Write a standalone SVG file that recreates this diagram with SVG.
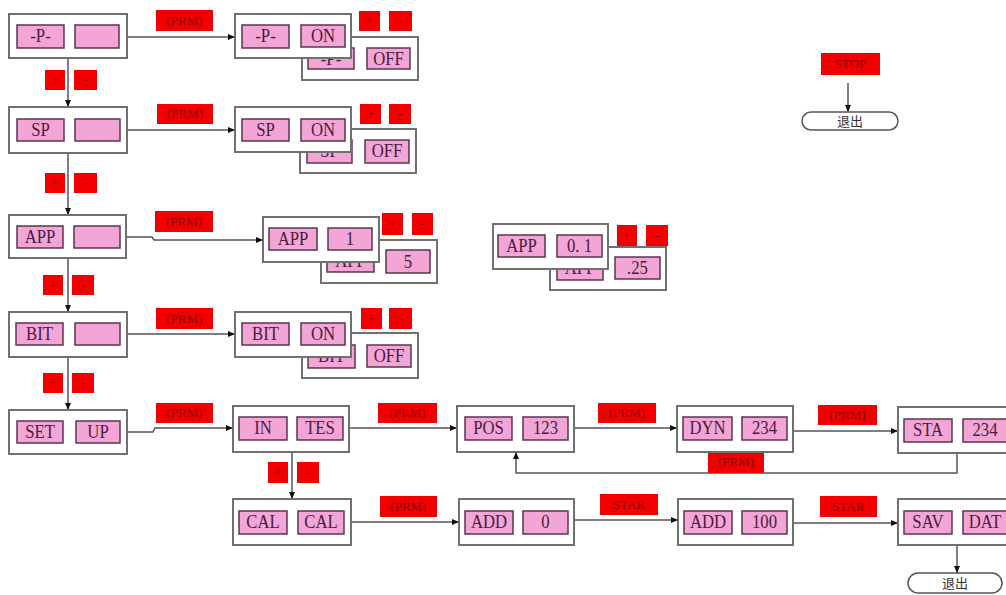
<svg xmlns="http://www.w3.org/2000/svg" width="1006" height="595" viewBox="0 0 1006 595">
<style>
.ob{fill:#fff;stroke:#707070;stroke-width:2}
.ib{fill:#f3a5d5;stroke:#5a3550;stroke-width:1.5}
.it{font-family:"Liberation Serif",serif;font-size:19px;fill:#4a1a40;text-anchor:middle;transform:scaleX(0.88);transform-box:fill-box;transform-origin:center}
.rb{fill:#f20000}
.rt{font-family:"Liberation Serif",serif;font-size:13px;fill:#8a0000;text-anchor:middle}
.ln{stroke:#555;stroke-width:1.5;fill:none;marker-end:url(#ah)}
.tm{fill:#fff;stroke:#555;stroke-width:1.5}
.tt{font-family:"Liberation Serif","Noto Sans CJK SC",serif;font-size:13px;fill:#333;text-anchor:middle}
</style>
<defs>
<marker id="ah" markerUnits="userSpaceOnUse" markerWidth="8" markerHeight="8" refX="7" refY="4" orient="auto">
<path d="M0,1 L7,4 L0,7 Z" fill="#111"/>
</marker>
</defs>
<rect width="1006" height="595" fill="#fff"/>

<g id="connectors">
<path class="ln" d="M68,58 V107"/>
<path class="ln" d="M68,153 V215"/>
<path class="ln" d="M68,258 V312"/>
<path class="ln" d="M68,357 V410"/>
<path class="ln" d="M127,37 H235"/>
<path class="ln" d="M127,130 H235"/>
<path class="ln" d="M126,237 H152 L154,240 H263"/>
<path class="ln" d="M127,334 H235"/>
<path class="ln" d="M127,432 H153 L155,428 H233"/>
<path class="ln" d="M349,428 H457"/>
<path class="ln" d="M574,428 H677"/>
<path class="ln" d="M793,431 H898"/>
<path class="ln" d="M957,453 V473 H516 V452"/>
<path class="ln" d="M292,452 V499"/>
<path class="ln" d="M351,522 H459"/>
<path class="ln" d="M574,520 H678"/>
<path class="ln" d="M793,523 H898"/>
<path class="ln" d="M957,545 V573"/>
<path class="ln" d="M848,83 V112"/>
</g>

<g id="labels">
<rect class="rb" x="156" y="10" width="57" height="21"/><text class="rt" x="184.5" y="25">(PRM)</text>
<rect class="rb" x="157" y="104" width="56" height="20"/><text class="rt" x="185" y="118">(PRM)</text>
<rect class="rb" x="155" y="211" width="58" height="21"/><text class="rt" x="184" y="226">(PRM)</text>
<rect class="rb" x="156" y="308" width="57" height="21"/><text class="rt" x="184.5" y="323">(PRM)</text>
<rect class="rb" x="156" y="403" width="57" height="20"/><text class="rt" x="184.5" y="417">(PRM)</text>
<rect class="rb" x="378" y="403" width="59" height="20"/><text class="rt" x="407.5" y="417">(PRM)</text>
<rect class="rb" x="598" y="403" width="58" height="20"/><text class="rt" x="627" y="417">(PRM)</text>
<rect class="rb" x="818" y="405" width="59" height="20"/><text class="rt" x="847.5" y="419">(PRM)</text>
<rect class="rb" x="708" y="451" width="56" height="22"/><text class="rt" x="736" y="466">(PRM)</text>
<rect class="rb" x="380" y="496" width="57" height="21"/><text class="rt" x="408.5" y="511">(PRM)</text>
<rect class="rb" x="600" y="494" width="58" height="21"/><text class="rt" x="629" y="509">STAR</text>
<rect class="rb" x="820" y="496" width="57" height="21"/><text class="rt" x="848.5" y="511">STAR</text>
<rect class="rb" x="821" y="53" width="59" height="22"/><text class="rt" x="850.5" y="68">STOP</text>
<rect class="rb" x="45" y="70" width="20" height="20"/><text class="rt" x="55" y="84">+</text>
<rect class="rb" x="74" y="70" width="23" height="20"/><text class="rt" x="85.5" y="84">-</text>
<rect class="rb" x="45" y="173" width="20" height="20"/><text class="rt" x="55" y="187">+</text>
<rect class="rb" x="74" y="173" width="23" height="20"/><text class="rt" x="85.5" y="187">-</text>
<rect class="rb" x="43" y="275" width="20" height="20"/><text class="rt" x="53" y="289">+</text>
<rect class="rb" x="72" y="275" width="22" height="20"/><text class="rt" x="83" y="289">-</text>
<rect class="rb" x="43" y="373" width="20" height="20"/><text class="rt" x="53" y="387">+</text>
<rect class="rb" x="72" y="373" width="22" height="20"/><text class="rt" x="83" y="387">-</text>
<rect class="rb" x="268" y="462" width="20" height="21"/><text class="rt" x="278" y="477">+</text>
<rect class="rb" x="297" y="462" width="22" height="21"/><text class="rt" x="308" y="477">-</text>
</g>

<g id="n_p_menu">
<rect class="ob" x="9" y="14" width="118" height="44"/>
<rect class="ib" x="17" y="25" width="47" height="23"/><text class="it" x="40.5" y="42">-P-</text>
<rect class="ib" x="75" y="25" width="44" height="23"/>
</g>
<g id="n_sp_menu">
<rect class="ob" x="9" y="107" width="118" height="46"/>
<rect class="ib" x="17" y="119" width="47" height="22"/><text class="it" x="40.5" y="136">SP</text>
<rect class="ib" x="75" y="119" width="45" height="22"/>
</g>
<g id="n_app_menu">
<rect class="ob" x="9" y="215" width="117" height="43"/>
<rect class="ib" x="17" y="226" width="46" height="22"/><text class="it" x="40" y="243">APP</text>
<rect class="ib" x="74" y="226" width="46" height="22"/>
</g>
<g id="n_bit_menu">
<rect class="ob" x="9" y="312" width="118" height="45"/>
<rect class="ib" x="16" y="323" width="47" height="22"/><text class="it" x="39.5" y="340">BIT</text>
<rect class="ib" x="75" y="323" width="45" height="22"/>
</g>
<g id="n_setup">
<rect class="ob" x="9" y="410" width="118" height="44"/>
<rect class="ib" x="17" y="421" width="46" height="22"/><text class="it" x="40" y="438">SET</text>
<rect class="ib" x="76" y="421" width="44" height="22"/><text class="it" x="98" y="438">UP</text>
</g>

<g id="n_p_set">
<rect class="ob" x="302" y="37" width="116" height="43"/>
<rect class="ib" x="308" y="48" width="46" height="21"/><text class="it" x="331" y="65">-P-</text>
<rect class="ib" x="367" y="48" width="43" height="21"/><text class="it" x="388.5" y="65">OFF</text>
<rect class="ob" x="235" y="14" width="116" height="44"/>
<rect class="ib" x="242" y="25" width="47" height="23"/><text class="it" x="265.5" y="42">-P-</text>
<rect class="ib" x="301" y="25" width="44" height="22"/><text class="it" x="323" y="42">ON</text>
<rect class="rb" x="359" y="11" width="21" height="20"/><text class="rt" x="369.5" y="25">+</text>
<rect class="rb" x="389" y="11" width="23" height="20"/><text class="rt" x="400.5" y="25">-</text>
</g>
<g id="n_sp_set">
<rect class="ob" x="300" y="129" width="116" height="44"/>
<rect class="ib" x="307" y="140" width="45" height="23"/><text class="it" x="329.5" y="157">SP</text>
<rect class="ib" x="365" y="140" width="44" height="23"/><text class="it" x="387" y="157">OFF</text>
<rect class="ob" x="235" y="107" width="116" height="45"/>
<rect class="ib" x="242" y="119" width="47" height="22"/><text class="it" x="265.5" y="136">SP</text>
<rect class="ib" x="301" y="119" width="44" height="22"/><text class="it" x="323" y="136">ON</text>
<rect class="rb" x="360" y="104" width="21" height="20"/><text class="rt" x="370.5" y="118">+</text>
<rect class="rb" x="389" y="104" width="22" height="20"/><text class="rt" x="400" y="118">-</text>
</g>
<g id="n_app_set">
<rect class="ob" x="321" y="240" width="116" height="43"/>
<rect class="ib" x="327" y="250" width="47" height="22"/><text class="it" x="350.5" y="267">APP</text>
<rect class="ib" x="386" y="250" width="44" height="23"/><text class="it" x="408" y="268">5</text>
<rect class="ob" x="263" y="217" width="116" height="45"/>
<rect class="ib" x="269" y="228" width="48" height="22"/><text class="it" x="293" y="245">APP</text>
<rect class="ib" x="328" y="228" width="44" height="22"/><text class="it" x="350" y="245">1</text>
<rect class="rb" x="382" y="213" width="21" height="22"/><text class="rt" x="392.5" y="228">+</text>
<rect class="rb" x="412" y="213" width="21" height="22"/><text class="rt" x="422.5" y="228">-</text>
</g>
<g id="n_bit_set">
<rect class="ob" x="302" y="333" width="116" height="45"/>
<rect class="ib" x="308" y="345" width="47" height="23"/><text class="it" x="331.5" y="362">BIT</text>
<rect class="ib" x="367" y="345" width="44" height="22"/><text class="it" x="389" y="362">OFF</text>
<rect class="ob" x="235" y="312" width="116" height="45"/>
<rect class="ib" x="242" y="323" width="47" height="22"/><text class="it" x="265.5" y="340">BIT</text>
<rect class="ib" x="301" y="323" width="44" height="22"/><text class="it" x="323" y="340">ON</text>
<rect class="rb" x="361" y="308" width="21" height="21"/><text class="rt" x="371.5" y="323">+</text>
<rect class="rb" x="389" y="308" width="23" height="21"/><text class="rt" x="400.5" y="323">-</text>
</g>
<g id="n_app_fine">
<rect class="ob" x="550" y="247" width="116" height="43"/>
<rect class="ib" x="557" y="257" width="46" height="23"/><text class="it" x="580" y="274">APP</text>
<rect class="ib" x="615" y="257" width="45" height="22"/><text class="it" x="637.5" y="274">.25</text>
<rect class="ob" x="493" y="224" width="115" height="45"/>
<rect class="ib" x="498" y="235" width="47" height="22"/><text class="it" x="521.5" y="252">APP</text>
<rect class="ib" x="557" y="235" width="45" height="22"/><text class="it" x="579.5" y="252">0. 1</text>
<rect class="rb" x="617" y="225" width="20" height="21"/><text class="rt" x="627" y="240">+</text>
<rect class="rb" x="646" y="225" width="22" height="21"/><text class="rt" x="657" y="240">-</text>
</g>

<g id="n_intes">
<rect class="ob" x="233" y="406" width="116" height="46"/>
<rect class="ib" x="239" y="417" width="48" height="23"/><text class="it" x="263" y="434">IN</text>
<rect class="ib" x="297" y="417" width="46" height="23"/><text class="it" x="320" y="434">TES</text>
</g>
<g id="n_pos">
<rect class="ob" x="457" y="406" width="117" height="46"/>
<rect class="ib" x="465" y="417" width="47" height="23"/><text class="it" x="488.5" y="434">POS</text>
<rect class="ib" x="523" y="417" width="45" height="23"/><text class="it" x="545.5" y="434">123</text>
</g>
<g id="n_dyn">
<rect class="ob" x="677" y="406" width="116" height="46"/>
<rect class="ib" x="683" y="417" width="49" height="23"/><text class="it" x="707.5" y="434">DYN</text>
<rect class="ib" x="742" y="417" width="45" height="23"/><text class="it" x="764.5" y="434">234</text>
</g>
<g id="n_sta">
<rect class="ob" x="898" y="407" width="116" height="46"/>
<rect class="ib" x="904" y="419" width="48" height="23"/><text class="it" x="928" y="436">STA</text>
<rect class="ib" x="963" y="419" width="47" height="23"/><text class="it" x="985" y="436">234</text>
</g>
<g id="n_cal">
<rect class="ob" x="233" y="499" width="118" height="46"/>
<rect class="ib" x="239" y="511" width="48" height="23"/><text class="it" x="263" y="528">CAL</text>
<rect class="ib" x="298" y="511" width="46" height="23"/><text class="it" x="321" y="528">CAL</text>
</g>
<g id="n_add0">
<rect class="ob" x="459" y="499" width="115" height="46"/>
<rect class="ib" x="465" y="511" width="48" height="23"/><text class="it" x="489" y="528">ADD</text>
<rect class="ib" x="523" y="511" width="45" height="23"/><text class="it" x="545.5" y="528">0</text>
</g>
<g id="n_add100">
<rect class="ob" x="678" y="499" width="115" height="46"/>
<rect class="ib" x="684" y="511" width="48" height="23"/><text class="it" x="708" y="528">ADD</text>
<rect class="ib" x="742" y="511" width="45" height="23"/><text class="it" x="764.5" y="528">100</text>
</g>
<g id="n_savdat">
<rect class="ob" x="898" y="499" width="116" height="46"/>
<rect class="ib" x="904" y="511" width="48" height="23"/><text class="it" x="928" y="528">SAV</text>
<rect class="ib" x="963" y="511" width="47" height="23"/><text class="it" x="985" y="528">DAT</text>
</g>
<g id="exit_top">
<rect class="tm" x="802" y="112" width="96" height="18" rx="9"/>
<text class="tt" x="850" y="126">退出</text>
</g>
<g id="exit_bottom">
<rect class="tm" x="908" y="573" width="94" height="20" rx="10"/>
<text class="tt" x="955" y="588">退出</text>
</g>
</svg>
